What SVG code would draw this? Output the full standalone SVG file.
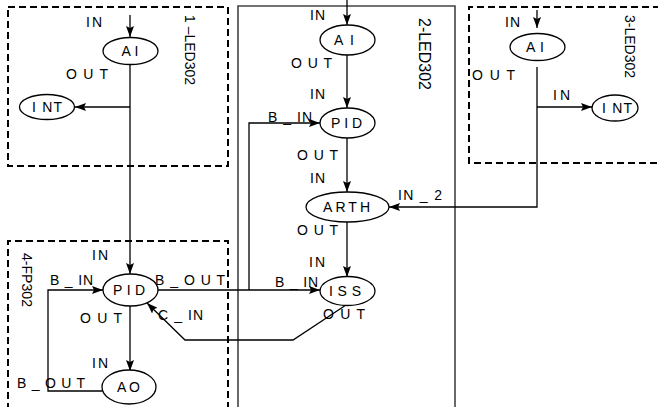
<svg xmlns="http://www.w3.org/2000/svg" width="658" height="407" viewBox="0 0 658 407">
<style>
.bg{fill:#fff}
.dash{fill:none;stroke:#000;stroke-width:2;stroke-dasharray:7,4}
.solid{fill:none;stroke:#444;stroke-width:1.6}
.node{fill:#fff;stroke:#000;stroke-width:1.3}
.ln{fill:none;stroke:#000;stroke-width:1.3}
text{font-family:"Liberation Sans",Arial,sans-serif;font-size:14px;fill:#000}
.nl{text-anchor:middle}
.lab{font-size:14px}
</style>
<defs>
<marker id="ah" markerWidth="11" markerHeight="8" refX="11" refY="4" orient="auto" markerUnits="userSpaceOnUse">
<path d="M0,0 L11,4 L0,8 L2,4 z" fill="#000"/>
</marker>
</defs>
<rect class="bg" x="0" y="0" width="658" height="407"/>

<g id="containers">
<g id="box1"><rect class="dash" x="8" y="7" width="220" height="159"/>
<text class="lab" transform="translate(185,15) rotate(90)" textLength="70" lengthAdjust="spacingAndGlyphs">1 –LED302</text></g>
<g id="box2"><path class="solid" d="M238,408 V6 H455 V408"/>
<text class="lab" style="font-size:16px" transform="translate(419,18) rotate(90)" textLength="72" lengthAdjust="spacingAndGlyphs">2-LED302</text></g>
<g id="box3"><path class="dash" d="M660,7 H469 V163 H660"/>
<text class="lab" transform="translate(625,15) rotate(90)" textLength="63" lengthAdjust="spacingAndGlyphs">3-LED302</text></g>
<g id="box4"><path class="dash" d="M8,410 V241 H228 V410"/>
<text class="lab" transform="translate(22,253) rotate(90)" textLength="54" lengthAdjust="spacingAndGlyphs">4-FP302</text></g>
</g>

<g id="connectors">
<path class="ln" d="M130,15 V37" marker-end="url(#ah)"/>
<path class="ln" d="M130,64 V274" marker-end="url(#ah)"/>
<path class="ln" d="M130,107 H75" marker-end="url(#ah)"/>
<path class="ln" d="M347,0 V25" marker-end="url(#ah)"/>
<path class="ln" d="M347,55 V108" marker-end="url(#ah)"/>
<path class="ln" d="M347,138 V192" marker-end="url(#ah)"/>
<path class="ln" d="M347,222 V277" marker-end="url(#ah)"/>
<path class="ln" d="M537,10 V28" marker-end="url(#ah)"/>
<path class="ln" d="M537,67 V207 H389" marker-end="url(#ah)"/>
<path class="ln" d="M537,107 H592" marker-end="url(#ah)"/>
<path class="ln" d="M158,290 H320" marker-end="url(#ah)"/>
<path class="ln" d="M249,290 V123 H320" marker-end="url(#ah)"/>
<path class="ln" d="M346,305 L293,340 H185 L147,303" marker-end="url(#ah)"/>
<path class="ln" d="M130,306 V371" marker-end="url(#ah)"/>
<path class="ln" d="M102,391 H48 V290 H103" marker-end="url(#ah)"/>
</g>

<g id="n1-AI"><ellipse class="node" cx="130.5" cy="51" rx="27.5" ry="13.5"/>
<text class="nl" x="130" y="56" textLength="17" lengthAdjust="spacing">AI</text>
<text x="86" y="27" textLength="16" lengthAdjust="spacing">IN</text>
<text x="66" y="79" textLength="42" lengthAdjust="spacing">O U T</text></g>
<g id="n1-INT"><ellipse class="node" cx="47" cy="107" rx="27.5" ry="12.5"/>
<text x="32" y="112" textLength="30" lengthAdjust="spacing">I NT</text></g>

<g id="n2-AI"><ellipse class="node" cx="347.5" cy="40" rx="27.5" ry="15"/>
<text class="nl" x="344" y="45" textLength="20" lengthAdjust="spacing">AI</text>
<text x="310" y="20" textLength="15" lengthAdjust="spacing">IN</text>
<text x="291" y="68" textLength="41" lengthAdjust="spacing">O U T</text></g>
<g id="n2-PID"><ellipse class="node" cx="347.5" cy="123" rx="27.5" ry="15"/>
<text x="331" y="128" textLength="31" lengthAdjust="spacing">PID</text>
<text x="310" y="99" textLength="15" lengthAdjust="spacing">IN</text>
<text x="268" y="122" textLength="44" lengthAdjust="spacing">B _ IN</text>
<text x="297" y="160" textLength="41" lengthAdjust="spacing">O U T</text></g>
<g id="n2-ARTH"><ellipse class="node" cx="347.5" cy="207" rx="41.5" ry="15"/>
<text x="323" y="212" textLength="47" lengthAdjust="spacing">ARTH</text>
<text x="310" y="183" textLength="15" lengthAdjust="spacing">IN</text>
<text x="398" y="200" textLength="44" lengthAdjust="spacing">IN _ 2</text>
<text x="297" y="235" textLength="41" lengthAdjust="spacing">O U T</text></g>
<g id="n2-ISS"><ellipse class="node" cx="347.5" cy="291" rx="27.5" ry="14.5"/>
<text x="329" y="296" textLength="32" lengthAdjust="spacing">ISS</text>
<text x="309" y="267" textLength="16" lengthAdjust="spacing">IN</text>
<text x="275" y="287" textLength="43" lengthAdjust="spacing">B _ IN</text>
<text x="323" y="319" textLength="42" lengthAdjust="spacing">O U T</text></g>

<g id="n3-AI"><ellipse class="node" cx="537.5" cy="47" rx="27.5" ry="13.5"/>
<text class="nl" x="535" y="52" textLength="18" lengthAdjust="spacing">AI</text>
<text x="505" y="27" textLength="15" lengthAdjust="spacing">IN</text>
<text x="472" y="80" textLength="43" lengthAdjust="spacing">O U T</text></g>
<g id="n3-INT"><ellipse class="node" cx="615" cy="108" rx="23" ry="13"/>
<text x="602" y="113" textLength="30" lengthAdjust="spacing">I NT</text>
<text x="553" y="100" textLength="17" lengthAdjust="spacing">IN</text></g>

<g id="n4-PID"><ellipse class="node" cx="130.5" cy="290" rx="27.5" ry="16"/>
<text x="113" y="295" textLength="32" lengthAdjust="spacing">PID</text>
<text x="92" y="260" textLength="16" lengthAdjust="spacing">IN</text>
<text x="50" y="285" textLength="43" lengthAdjust="spacing">B _ IN</text>
<text x="155" y="285" textLength="70" lengthAdjust="spacing">B _ O U T</text>
<text x="158" y="320" textLength="45" lengthAdjust="spacing">C _ IN</text>
<text x="80" y="323" textLength="42" lengthAdjust="spacing">O U T</text></g>
<g id="n4-AO"><ellipse class="node" cx="129" cy="387" rx="27" ry="17"/>
<text x="117" y="392" textLength="23" lengthAdjust="spacing">AO</text>
<text x="92" y="368" textLength="16" lengthAdjust="spacing">IN</text>
<text x="17" y="388" textLength="68" lengthAdjust="spacing">B _ O U T</text></g>
</svg>
